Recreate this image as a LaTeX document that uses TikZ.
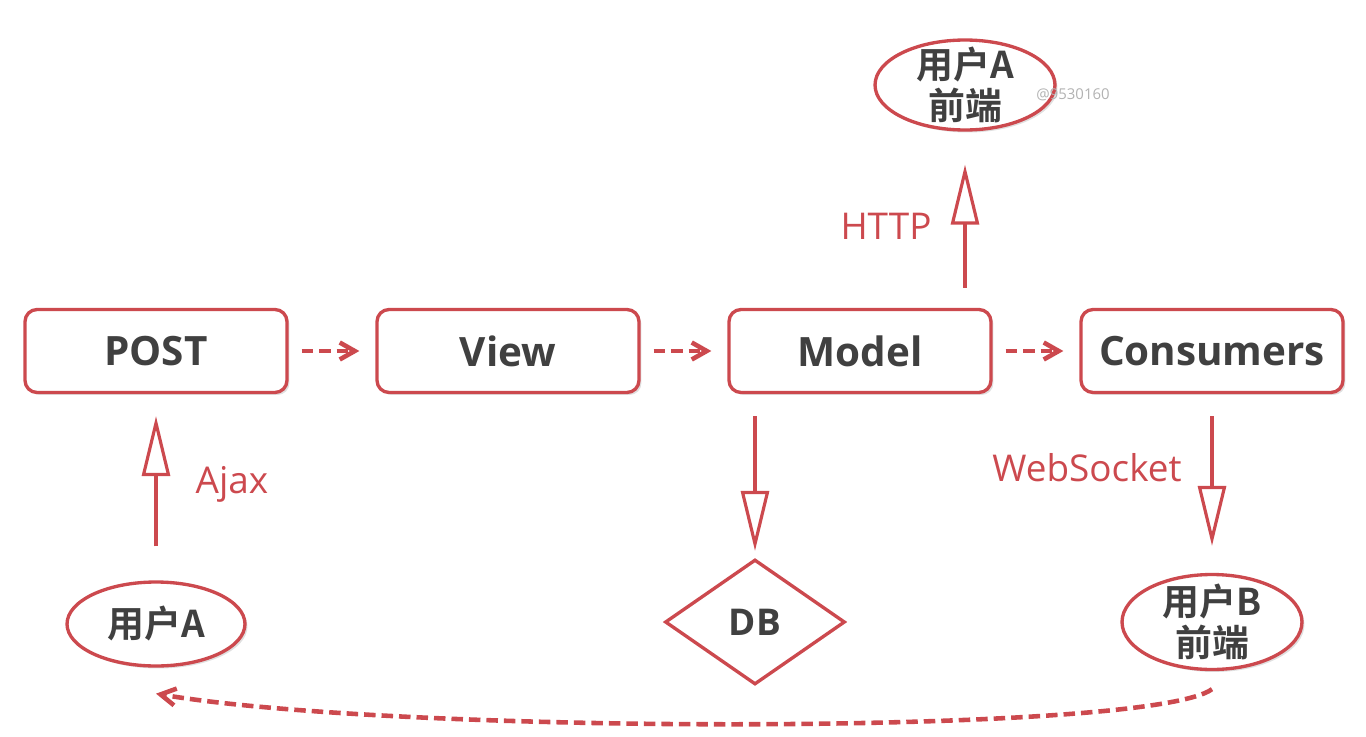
\documentclass[tikz,border=0pt]{standalone}
\usepackage{fontspec}
\setmainfont{Open Sans}
\newfontfamily\cjk{Noto Sans CJK SC}[BoldFont={Noto Sans CJK SC Bold}]
\usetikzlibrary{arrows.meta,shapes.geometric,shadows}
\definecolor{linered}{RGB}{204,73,78}
\definecolor{textgray}{RGB}{64,64,64}
\tikzset{
  soft/.style={drop shadow={shadow xshift=0.05cm,shadow yshift=-0.05cm,opacity=0.12,fill=black}},
  box/.style={draw=linered, line width=1.9pt, rounded corners=0.24cm, fill=white,
    minimum width=5.24cm, minimum height=1.66cm, text=textgray, soft,
    font=\fontsize{23}{28}\selectfont\bfseries},
  user/.style={ellipse, draw=linered, line width=1.9pt, fill=white, inner sep=0pt,
    text=textgray, align=center, soft,
    font=\cjk\bfseries\fontsize{21}{23}\selectfont},
  store/.style={diamond, draw=linered, line width=1.9pt, fill=white, inner sep=0pt,
    minimum width=3.6cm, minimum height=2.5cm, text=textgray,
    font=\fontsize{21}{25}\selectfont\bfseries},
  flow/.style={draw=linered, line width=2.6pt, dash pattern=on 0.23cm off 0.12cm,
    -{Straight Barb[length=0.3cm,width=0.34cm]}},
  call/.style={draw=linered, line width=1.8pt, -{Triangle[open,length=1.2cm,width=0.56cm]}},
  proto/.style={text=linered, font=\fontsize{21}{25}\selectfont}
}
\begin{document}
\begin{tikzpicture}[x=0.02cm,y=-0.02cm]
  \useasboundingbox (0,0) rectangle (1366,737);

  % main chain
  \node[box] (post)  at (156,351)  {POST};
  \node[box] (view)  at (508,351)  {View};
  \node[box] (model) at (860,351)  {Model};
  \node[box] (cons)  at (1212,351) {Consumers};

  % clients and storage
  \node[user, inner ysep=-4pt, minimum width=3.6cm, minimum height=1.8cm] (uafront) at (965,85) {用户A\\前端};
  \node[user, minimum width=3.56cm, minimum height=1.68cm] (ua) at (156,624) {用户A};
  \node[user, inner ysep=-3pt, minimum width=3.6cm, minimum height=1.9cm] (ubfront) at (1212,622) {用户B\\前端};
  \node[store] (db) at (755,622) {DB};

  \foreach \a/\b in {post/view, view/model, model/cons}
    \draw[flow, shorten <=0.26cm, shorten >=0.32cm] (\a) -- (\b);

  \draw[call, shorten <=0.68cm, shorten >=0.44cm] (ua) -- (post);
  \draw[call, shorten <=0.4cm, shorten >=0.66cm] (model.north -| uafront.south) -- (uafront.south);
  \draw[call, shorten <=0.44cm, shorten >=0.14cm] (model.south -| db.north) -- (db.north);
  \draw[call, shorten <=0.44cm, shorten >=0.54cm] (cons.south) -- (ubfront.north);

  \node[proto] (lblajax) at (232,484)  {Ajax};
  \node[proto] (lblhttp) at (886,226)  {HTTP};
  \node[proto] (lblws)   at (1087,468) {WebSocket};

  % push back to user A
  \draw[flow] ([yshift=-0.36cm]ubfront.south) .. controls (1150,735) and (400,735) .. ([yshift=-0.52cm]ua.south);

  \node[text=black!30, font=\fontsize{8.5}{10}\selectfont] (mark) at (1073,95) {@9530160};
\end{tikzpicture}
\end{document}
